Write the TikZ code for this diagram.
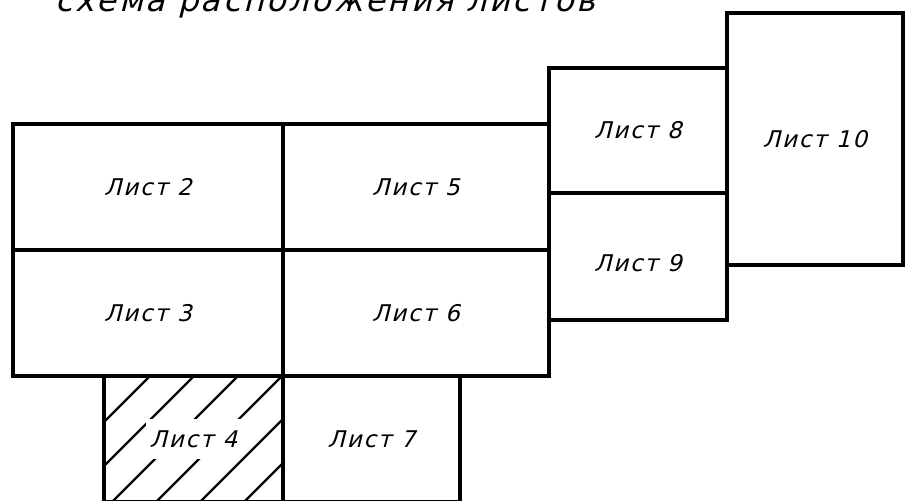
\documentclass[tikz,border=0pt]{standalone}
\usepackage{fontspec}
\newfontfamily\gostfont{DejaVu Sans}[FakeSlant=0.25,LetterSpace=8]
\usetikzlibrary{positioning}
\tikzset{
  sheet/.style={draw,line width=3.4pt,inner sep=0pt,outer sep=0pt,
    font={\gostfont\fontsize{23}{27}\selectfont}},
  hatch/.style={line width=2.4pt},
  titletext/.style={inner sep=0pt,font={\gostfont\fontsize{32}{36}\selectfont}}
}

\begin{document}
\begin{tikzpicture}[x=1pt,y=-1pt]
\useasboundingbox (0,0) rectangle (909,500);
\node[titletext,anchor=base west] (ttl) at (55,12) {схема расположения листов};
% main block
\node[sheet,anchor=north west,minimum width=270pt,minimum height=126pt] (s2) at (13,124) {Лист 2};
\node[sheet,minimum width=270pt,minimum height=126pt,below=0pt of s2] (s3) {Лист 3};
\node[sheet,minimum width=266pt,minimum height=126pt,right=0pt of s2] (s5) {Лист 5};
\node[sheet,minimum width=266pt,minimum height=126pt,below=0pt of s5] (s6) {Лист 6};
% lower row
\node[sheet,anchor=north west,minimum width=177pt,minimum height=126pt] (s7) at (s6.south west) {Лист 7};
\node[sheet,anchor=north east,minimum width=179pt,minimum height=126pt] (s4) at (s7.north west) {};
\begin{scope}
  \clip (s4.north west) rectangle (s4.south east);
  \foreach \c in {482,526,...,746}
    \draw[hatch] (\c-520,520) -- (\c-360,360);
\end{scope}
\node[sheet,draw=none,fill=white,inner xsep=4pt,inner ysep=11pt] (t4) at (s4.center) {Лист 4};
% right part
\node[sheet,anchor=north west,minimum width=178pt,minimum height=125pt] (s8) at (549,68) {Лист 8};
\node[sheet,anchor=north west,minimum width=178pt,minimum height=127pt] (s9) at (s8.south west) {\raisebox{-15pt}[0pt][0pt]{Лист 9}};
\node[sheet,anchor=north west,minimum width=176pt,minimum height=252pt] (s10) at (727,13) {Лист 10};
\end{tikzpicture}
\end{document}
